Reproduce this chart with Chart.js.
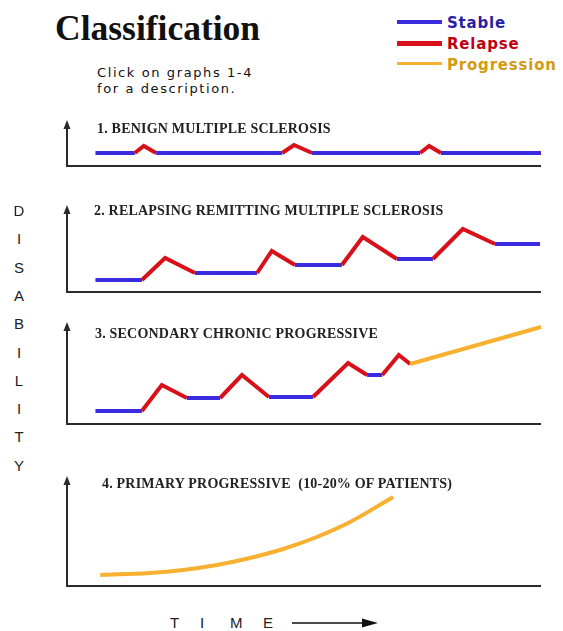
<!DOCTYPE html>
<html>
<head>
<meta charset="utf-8">
<title>Classification</title>
<script src="https://cdn.jsdelivr.net/npm/chart.js@4.4.1/dist/chart.umd.min.js"></script>
<style>
  body { margin: 0; background: #fff; width: 563px; height: 631px; position: relative; overflow: hidden; }
  .t { position: absolute; white-space: nowrap; line-height: 1; }
  #head { left: 55px; top: 7px; font: bold 35.5px "Liberation Serif", serif; color: #111; }
  #hint { left: 97px; top: 65px; font: 13px "DejaVu Sans", sans-serif; letter-spacing: 1.6px; color: #111; line-height: 16px; }
  .leg { left: 447px; font: bold 15px "DejaVu Sans", sans-serif; letter-spacing: 0.8px; }
  .legline { position: absolute; left: 397px; width: 45px; }
  .ptitle { font: bold 14px "Liberation Serif", serif; letter-spacing: 0.2px; color: #222; }
  .dis { left: 12px; width: 14px; text-align: center; font: 15px "Liberation Sans", sans-serif; color: #222; }
  #time { left: 170px; top: 615px; font: 15px "Liberation Sans", sans-serif; color: #222; }
  canvas { position: absolute; }
</style>
</head>
<body>
<div class="t" id="head">Classification</div>
<div class="t" id="hint">Click on graphs 1-4<br>for a description.</div>

<div class="legline" style="top:20px;height:4px;background:#3a2be0"></div>
<div class="legline" style="top:41px;height:5px;background:#d8101a"></div>
<div class="legline" style="top:62px;height:3px;background:#f8b030"></div>
<div class="t leg" style="top:14px;color:#2a1ea8">Stable</div>
<div class="t leg" style="top:35px;color:#c0000e">Relapse</div>
<div class="t leg" style="top:56px;color:#d49a10">Progression</div>

<canvas id="c1"></canvas>
<canvas id="c2"></canvas>
<canvas id="c3"></canvas>
<canvas id="c4"></canvas>

<div class="t ptitle" style="left:97px;top:121px">1. BENIGN MULTIPLE SCLEROSIS</div>
<div class="t ptitle" style="left:94px;top:203px">2. RELAPSING REMITTING MULTIPLE SCLEROSIS</div>
<div class="t ptitle" style="left:95px;top:326px">3. SECONDARY CHRONIC PROGRESSIVE</div>
<div class="t ptitle" style="left:102px;top:476px">4. PRIMARY PROGRESSIVE&nbsp; (10-20% OF PATIENTS)</div>

<div id="disability"></div>
<div class="t" id="time"></div>

<script>
// time runs 0-100 along each axis, disability is the height above the time axis
// phase codes: S = stable, R = relapse, P = progression (one per segment)
const benignTime = [6, 14.3, 16.2, 18.8, 45.4, 47.9, 51.7, 74.5, 76.4, 78.9, 100];
const benignLevel = [1.3, 1.3, 2.0, 1.3, 1.3, 2.1, 1.3, 1.3, 2.0, 1.3, 1.3];
const benignPhase = ["S", "R", "R", "S", "R", "R", "S", "R", "R", "S"];

const remittingTime = [6, 15.8, 20.7, 27.0, 40.1, 43.2, 48.1, 58.0, 62.4, 69.6, 77.2, 83.5, 90.3, 99.8];
const remittingLevel = [1.2, 1.2, 3.4, 1.9, 1.9, 4.1, 2.7, 2.7, 5.5, 3.3, 3.3, 6.3, 4.8, 4.8];
const remittingPhase = ["S", "R", "R", "S", "R", "R", "S", "R", "R", "S", "R", "R", "S"];

const secondaryTime = [6, 15.8, 20.0, 25.3, 32.3, 36.9, 42.6, 51.9, 59.3, 63.3, 66.5, 70.0, 72.4, 100];
const secondaryLevel = [1.3, 1.3, 3.9, 2.6, 2.6, 4.9, 2.7, 2.7, 6.1, 4.9, 4.9, 6.9, 6.0, 9.7];
const secondaryPhase = ["S", "R", "R", "S", "R", "R", "S", "R", "R", "S", "R", "R", "P"];

const primaryTime = [7.0, 17.5, 24.5, 31.6, 38.6, 45.6, 52.7, 59.7, 68.8];
const primaryLevel = [1.1, 1.3, 1.6, 2.1, 2.8, 3.7, 4.9, 6.4, 8.9];
const primaryPhase = ["P", "P", "P", "P", "P", "P", "P", "P"];

const axisLetters = ["D", "I", "S", "A", "B", "I", "L", "I", "T", "Y"];
const timeLabel = ["T", "I", "M", "E"];

const phaseColors = { S: "#3a2be0", R: "#d8101a", P: "#f8b030" };

// where each panel's axes sit on the page
const panels = [
  { id: "c1", time: benignTime, level: benignLevel, phase: benignPhase, top: 120, bottom: 166 },
  { id: "c2", time: remittingTime, level: remittingLevel, phase: remittingPhase, top: 205, bottom: 292 },
  { id: "c3", time: secondaryTime, level: secondaryLevel, phase: secondaryPhase, top: 322, bottom: 424 },
  { id: "c4", time: primaryTime, level: primaryLevel, phase: primaryPhase, top: 476, bottom: 586, smooth: true },
];
const axisLeft = 67;
const axisRight = 541;
const pad = 10;

// L shaped axes with an arrow on the vertical one
const axesPlugin = {
  id: "axes",
  beforeDatasetsDraw(chart) {
    const { ctx, chartArea: a } = chart;
    ctx.save();
    ctx.strokeStyle = "#2a2a2a";
    ctx.fillStyle = "#2a2a2a";
    ctx.lineWidth = 2;
    ctx.beginPath();
    ctx.moveTo(a.left, a.top + 6);
    ctx.lineTo(a.left, a.bottom);
    ctx.lineTo(a.right, a.bottom);
    ctx.stroke();
    ctx.beginPath();
    ctx.moveTo(a.left, a.top);
    ctx.lineTo(a.left - 3.5, a.top + 9);
    ctx.lineTo(a.left + 3.5, a.top + 9);
    ctx.closePath();
    ctx.fill();
    ctx.restore();
  },
};

panels.forEach((p) => {
  const canvas = document.getElementById(p.id);
  const h = p.bottom - p.top;
  canvas.width = axisRight - axisLeft + pad * 2;
  canvas.height = h + pad * 2;
  canvas.style.left = axisLeft - pad + "px";
  canvas.style.top = p.top - pad + "px";

  new Chart(canvas, {
    type: "line",
    data: {
      datasets: [
        {
          data: p.time.map((t, i) => ({ x: t, y: p.level[i] })),
          borderColor: phaseColors[p.phase[0]],
          borderWidth: 4,
          pointRadius: 0,
          tension: p.smooth ? 0.4 : 0,
          borderJoinStyle: "miter",
          clip: false,
          segment: {
            borderColor: (ctx) => phaseColors[p.phase[ctx.p0DataIndex]],
          },
        },
      ],
    },
    options: {
      responsive: false,
      animation: false,
      events: [],
      layout: { padding: pad },
      plugins: { legend: { display: false }, tooltip: { enabled: false } },
      scales: {
        x: { type: "linear", min: 0, max: 100, display: false },
        y: { min: 0, max: h / 10, display: false },
      },
    },
    plugins: [axesPlugin],
  });
});

// vertical DISABILITY label
const dis = document.getElementById("disability");
axisLetters.forEach((ch, i) => {
  const d = document.createElement("div");
  d.className = "t dis";
  d.style.top = 202 + i * 28.3 + "px";
  d.textContent = ch;
  dis.appendChild(d);
});

// TIME label with its arrow
const time = document.getElementById("time");
const letterX = [0, 30, 60, 93];
timeLabel.forEach((ch, i) => {
  const s = document.createElement("span");
  s.className = "t";
  s.style.left = letterX[i] + "px";
  s.style.top = "0px";
  s.textContent = ch;
  time.appendChild(s);
});
const arrow = document.createElement("canvas");
arrow.width = 90;
arrow.height = 12;
arrow.style.left = "292px";
arrow.style.top = "617px";
document.body.appendChild(arrow);
const actx = arrow.getContext("2d");
actx.strokeStyle = "#111";
actx.fillStyle = "#111";
actx.lineWidth = 1.5;
actx.beginPath();
actx.moveTo(0, 6);
actx.lineTo(75, 6);
actx.stroke();
actx.beginPath();
actx.moveTo(86, 6);
actx.lineTo(70, 1.5);
actx.lineTo(70, 10.5);
actx.closePath();
actx.fill();
</script>
</body>
</html>
